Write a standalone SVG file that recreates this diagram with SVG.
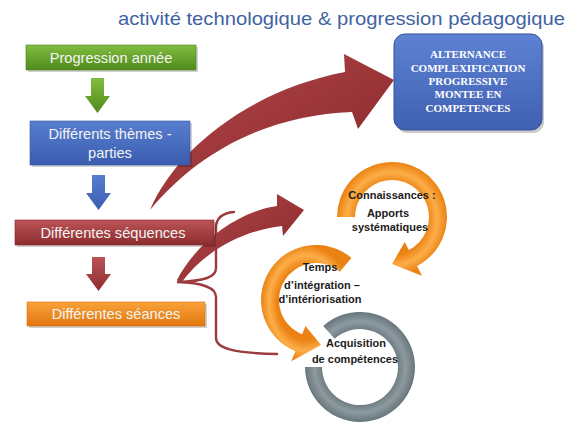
<svg xmlns="http://www.w3.org/2000/svg" width="582" height="425" viewBox="0 0 582 425">
<defs>
<linearGradient id="gGreen" x1="0" y1="0" x2="0" y2="1"><stop offset="0" stop-color="#80bd3f"/><stop offset="1" stop-color="#4f8a1c"/></linearGradient>
<linearGradient id="gBlue" x1="0" y1="0" x2="0" y2="1"><stop offset="0" stop-color="#587ed0"/><stop offset="1" stop-color="#3a5cae"/></linearGradient>
<linearGradient id="gRed" x1="0" y1="0" x2="0" y2="1"><stop offset="0" stop-color="#bb5456"/><stop offset="1" stop-color="#8c2c2f"/></linearGradient>
<linearGradient id="gOrange" x1="0" y1="0" x2="0" y2="1"><stop offset="0" stop-color="#f9a23a"/><stop offset="1" stop-color="#e2760e"/></linearGradient>
<linearGradient id="gBigArrow" x1="0" y1="0" x2="1" y2="1"><stop offset="0" stop-color="#b44a4d"/><stop offset="0.5" stop-color="#9c3639"/><stop offset="1" stop-color="#842629"/></linearGradient>
<radialGradient id="gRing" cx="0.5" cy="0.5" r="0.5"><stop offset="0.64" stop-color="#ec8214"/><stop offset="0.82" stop-color="#fcae48"/><stop offset="1" stop-color="#eb8214"/></radialGradient>
<radialGradient id="gGray" cx="0.5" cy="0.5" r="0.5"><stop offset="0.64" stop-color="#65747a"/><stop offset="0.83" stop-color="#8d9a9f"/><stop offset="1" stop-color="#67767c"/></radialGradient>
<linearGradient id="gPanel" x1="0" y1="0" x2="0" y2="1"><stop offset="0" stop-color="#5e82d3"/><stop offset="1" stop-color="#4060b2"/></linearGradient>
</defs>
<style>
.box{stroke-width:0.6}
.shadow{fill:#000;opacity:0.18}
.btxt{font-family:"Liberation Sans",Arial,sans-serif;font-size:14.6px;fill:#f4f4f4;text-anchor:middle}
.ptxt{font-family:"Liberation Serif","Times New Roman",serif;font-size:11px;font-weight:bold;fill:#ffffff;text-anchor:middle}
.ctxt{font-family:"Liberation Sans",Arial,sans-serif;font-size:11px;font-weight:bold;fill:#1b1b1b;text-anchor:middle}
.brace{fill:none;stroke:#9b3b3e;stroke-width:2.4;stroke-linecap:round}
</style>
<rect width="582" height="425" fill="#ffffff"/>
<text id="title" x="118" y="25" font-family="'Liberation Sans',Arial,sans-serif" font-size="19" fill="#3f63a3" textLength="447" lengthAdjust="spacingAndGlyphs">activité technologique &amp; progression pédagogique</text>

<g id="connectors">
<path id="big-arrow" d="M150,210 C175,150 250,90 345,72 L344,54 L394,80 L358,129 L352,112 C270,115 200,150 150,210 Z" fill="url(#gBigArrow)"/>
<path id="mid-arrow" d="M177,280 C195,245 235,212 277,206 L277,194 L304,210 L283,236 L282,226 C245,230 205,250 181,283 Z" fill="url(#gBigArrow)"/>
<path id="brace" class="brace" d="M234,212 C222,213 216,218 216,228 L216,268 C216,277 205,281 177,282 C205,283 216,288 216,297 L216,338 C216,348 232,353 277,354"/>
<path id="arrow-green" d="M91,78 H104 V96 H110 L97.5,113 L85,96 H91 Z" fill="url(#gGreen)"/>
<path id="arrow-blue" d="M92,175 H105 V193 H111 L98.5,210 L86,193 H92 Z" fill="url(#gBlue)"/>
<path id="arrow-red" d="M92,257 H105 V274 H111 L98.5,291 L86,274 H92 Z" fill="url(#gRed)"/>
</g>

<g id="node-progression">
<rect class="shadow" x="28" y="47" width="170" height="25"/>
<rect class="box" x="26" y="45" width="170" height="25" fill="url(#gGreen)" stroke="#4a7f1c"/>
<text class="btxt" x="111" y="63">Progression année</text>
</g>
<g id="node-themes">
<rect class="shadow" x="32" y="123" width="160" height="44"/>
<rect class="box" x="30" y="121" width="160" height="44" fill="url(#gBlue)" stroke="#3556a3"/>
<text class="btxt" x="110" y="139">Différents thèmes -</text>
<text class="btxt" x="110" y="158">parties</text>
</g>
<g id="node-sequences">
<rect class="shadow" x="17" y="222" width="199" height="25"/>
<rect class="box" x="15" y="220" width="199" height="25" fill="url(#gRed)" stroke="#842a2d"/>
<text class="btxt" x="113" y="238">Différentes séquences</text>
</g>
<g id="node-seances">
<rect class="shadow" x="29" y="304" width="178" height="24"/>
<rect class="box" x="27" y="302" width="178" height="24" fill="url(#gOrange)" stroke="#d8700e"/>
<text class="btxt" x="116" y="319">Différentes séances</text>
</g>

<g id="node-alternance">
<rect x="396" y="37" width="148" height="96" rx="11" fill="#000" opacity="0.2"/>
<rect x="394" y="34" width="148" height="96" rx="11" fill="url(#gPanel)" stroke="#34519a" stroke-width="1"/>
<text class="ptxt" x="468" y="58">ALTERNANCE</text>
<text class="ptxt" x="468" y="72">COMPLEXIFICATION</text>
<text class="ptxt" x="468" y="85">PROGRESSIVE</text>
<text class="ptxt" x="468" y="98">MONTEE EN</text>
<text class="ptxt" x="468" y="112">COMPETENCES</text>
</g>

<g id="node-acquisition">
<path d="M323.2,326.1 A55,55 0 1 1 305,367 L322,367 A38,38 0 1 0 334.6,338.8 Z" fill="url(#gGray)"/>
</g>
<g id="node-temps">
<path d="M351.4,257.9 A55,55 0 1 0 295.4,351 L291.3,361.2 L321,345 L305.5,326 L302.1,334.3 A37,37 0 1 1 339.8,271.7 Z" fill="url(#gRing)"/>
</g>
<g id="node-connaissances">
<path d="M337,217 A55,55 0 1 1 416.97,266 L422,275.8 L392,264 L404.7,241.9 L408.8,250 A37,37 0 1 0 355,217 Z" fill="url(#gRing)"/>
</g>
<g id="cycle-labels">
<text class="ctxt" x="392" y="199">Connaissances :</text>
<text class="ctxt" x="388" y="217">Apports</text>
<text class="ctxt" x="390" y="231">systématiques</text>
<text class="ctxt" x="320" y="271">Temps</text>
<text class="ctxt" x="322" y="289">d’intégration –</text>
<text class="ctxt" x="320" y="303">d’intériorisation</text>
<text class="ctxt" x="356" y="347">Acquisition</text>
<text class="ctxt" x="355" y="363">de compétences</text>
</g>
</svg>
